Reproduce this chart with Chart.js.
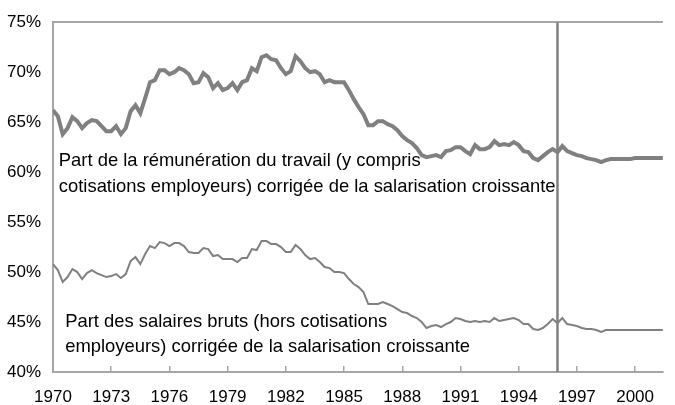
<!DOCTYPE html>
<html lang="fr">
<head>
  <meta charset="UTF-8" />
  <title>Part des salaires</title>
  <script src="https://cdn.jsdelivr.net/npm/chart.js"></script>
  <style>
    html, body { margin: 0; background: #ffffff; }
    #wrap { width: 675px; height: 405px; }
  </style>
</head>
<body>
  <div id="wrap"><canvas id="shareChart"></canvas></div>

  <script>
    // quarterly series, starting 1970 Q1
    const startYear = 1970;
    const yearTicks = [1970, 1973, 1976, 1979, 1982, 1985, 1988, 1991, 1994, 1997, 2000];
    const pctTicks = [40, 45, 50, 55, 60, 65, 70, 75];
    const breakYear = 1996;

    const labourShare = [
      66.2, 65.6, 63.8, 64.4,  65.5, 65.1, 64.4, 64.9,  65.2, 65.1, 64.6, 64.1,  64.1, 64.6, 63.8, 64.4,
      66.1, 66.7, 65.9, 67.4,  69.0, 69.2, 70.2, 70.2,  69.8, 70.0, 70.4, 70.2,  69.8, 68.9, 69.0, 69.9,
      69.5, 68.4, 68.9, 68.2,  68.4, 68.9, 68.2, 69.0,  69.2, 70.4, 70.1, 71.5,  71.7, 71.3, 71.2, 70.4,
      69.8, 70.1, 71.6, 71.1,  70.4, 70.0, 70.1, 69.8,  69.0, 69.2, 69.0, 69.0,  69.0, 68.2, 67.3, 66.5,
      65.8, 64.7, 64.7, 65.1,  65.1, 64.8, 64.6, 64.2,  63.6, 63.2, 62.9, 62.4,  61.7, 61.5, 61.6, 61.7,
      61.5, 62.1, 62.2, 62.5,  62.5, 62.1, 61.8, 62.7,  62.3, 62.3, 62.5, 63.1,  62.7, 62.8, 62.7, 63.0,
      62.7, 62.1, 62.0, 61.4,  61.2, 61.6, 62.0, 62.3,  62.0, 62.6, 62.1, 61.9,  61.7, 61.6, 61.4, 61.3,
      61.2, 61.0, 61.2, 61.3,  61.3, 61.3, 61.3, 61.3,  61.4, 61.4, 61.4, 61.4,  61.4, 61.4, 61.4
    ];

    const wageShare = [
      50.8, 50.2, 49.0, 49.5,  50.3, 50.0, 49.3, 49.9,  50.2, 49.9, 49.7, 49.5,  49.6, 49.8, 49.4, 49.8,
      51.1, 51.5, 50.8, 51.8,  52.6, 52.4, 53.0, 52.9,  52.6, 52.9, 52.9, 52.6,  52.0, 51.9, 51.9, 52.4,
      52.3, 51.6, 51.7, 51.3,  51.3, 51.3, 51.0, 51.4,  51.4, 52.3, 52.2, 53.1,  53.1, 52.8, 52.8, 52.5,
      52.0, 52.0, 52.7, 52.3,  51.7, 51.3, 51.4, 51.0,  50.5, 50.4, 50.0, 50.0,  49.9, 49.3, 48.8, 48.5,
      48.0, 46.8, 46.8, 46.8,  47.0, 46.8, 46.6, 46.3,  46.0, 45.9, 45.6, 45.4,  45.0, 44.4, 44.6, 44.7,
      44.5, 44.8, 45.0, 45.4,  45.3, 45.1, 45.0, 45.1,  45.0, 45.1, 45.0, 45.4,  45.1, 45.2, 45.3, 45.4,
      45.2, 44.8, 44.8, 44.3,  44.2, 44.4, 44.8, 45.3,  44.9, 45.4, 44.8, 44.7,  44.6, 44.4, 44.3, 44.3,
      44.2, 44.0, 44.2, 44.2,  44.2, 44.2, 44.2, 44.2,  44.2, 44.2, 44.2, 44.2,  44.2, 44.2, 44.2
    ];

    const labourText = [
      'Part de la rémunération du travail (y compris',
      'cotisations employeurs) corrigée de la salarisation croissante'
    ];
    const wageText = [
      'Part des salaires bruts (hors cotisations',
      'employeurs) corrigée de la salarisation croissante'
    ];

    const toPoints = arr => arr.map((v, i) => ({ x: startYear + i / 4, y: v }));

    const fontFamily = '"Liberation Sans", Arial, sans-serif';
    const axisGrey = '#a6a6a6';
    const lineGrey = '#808080';

    // vertical break line + the two text blocks
    const extras = {
      id: 'extras',
      beforeDatasetsDraw(chart) {
        const { ctx, chartArea, scales } = chart;
        const x = scales.x.getPixelForValue(breakYear);
        ctx.save();
        ctx.strokeStyle = lineGrey;
        ctx.lineWidth = 2.5;
        ctx.beginPath();
        ctx.moveTo(x, chartArea.top);
        ctx.lineTo(x, chartArea.bottom);
        ctx.stroke();
        ctx.restore();
      },
      afterDatasetsDraw(chart) {
        const { ctx, scales } = chart;
        ctx.save();
        ctx.fillStyle = '#000000';
        ctx.font = '18.4px ' + fontFamily;
        ctx.textBaseline = 'middle';
        ctx.textAlign = 'left';
        const ux = scales.x.getPixelForValue(1970.3);
        ctx.fillText(labourText[0], ux, scales.y.getPixelForValue(61.1));
        ctx.fillText(labourText[1], ux, scales.y.getPixelForValue(58.5));
        const lx = scales.x.getPixelForValue(1970.63);
        ctx.fillText(wageText[0], lx, scales.y.getPixelForValue(45.0));
        ctx.fillText(wageText[1], lx, scales.y.getPixelForValue(42.5));
        ctx.restore();
      }
    };

    const ctx = document.getElementById('shareChart').getContext('2d');

    new Chart(ctx, {
      type: 'line',
      data: {
        datasets: [
          {
            label: 'Rémunération du travail',
            data: toPoints(labourShare),
            borderColor: lineGrey,
            borderWidth: 4,
            pointRadius: 0,
            tension: 0
          },
          {
            label: 'Salaires bruts',
            data: toPoints(wageShare),
            borderColor: lineGrey,
            borderWidth: 2,
            pointRadius: 0,
            tension: 0
          }
        ]
      },
      options: {
        responsive: true,
        maintainAspectRatio: false,
        animation: false,
        layout: { padding: { top: 20, right: 0, left: 0, bottom: 0 } },
        plugins: {
          legend: { display: false },
          tooltip: { enabled: false }
        },
        scales: {
          x: {
            type: 'linear',
            min: 1970,
            max: 2001.43,
            afterBuildTicks: scale => {
              scale.ticks = yearTicks.map(v => ({ value: v }));
            },
            afterFit: scale => { scale.height = 33; },
            border: { color: axisGrey, width: 2 },
            grid: {
              drawOnChartArea: false,
              drawTicks: true,
              tickLength: -6,
              color: axisGrey,
              lineWidth: 1.5
            },
            ticks: {
              autoSkip: false,
              maxRotation: 0,
              padding: 21,
              color: '#000000',
              font: { family: fontFamily, size: 17 },
              callback: v => String(v)
            }
          },
          y: {
            min: 40,
            max: 75,
            afterBuildTicks: scale => {
              scale.ticks = pctTicks.map(v => ({ value: v }));
            },
            afterFit: scale => { scale.width = 53; },
            border: { color: axisGrey, width: 2 },
            grid: {
              drawTicks: false,
              lineWidth: 2,
              color: c => (c.tick && c.tick.value === 75 ? axisGrey : 'rgba(0,0,0,0)')
            },
            ticks: {
              padding: 12,
              color: '#000000',
              font: { family: fontFamily, size: 17 },
              callback: v => v + '%'
            }
          }
        }
      },
      plugins: [extras]
    });
  </script>
</body>
</html>
